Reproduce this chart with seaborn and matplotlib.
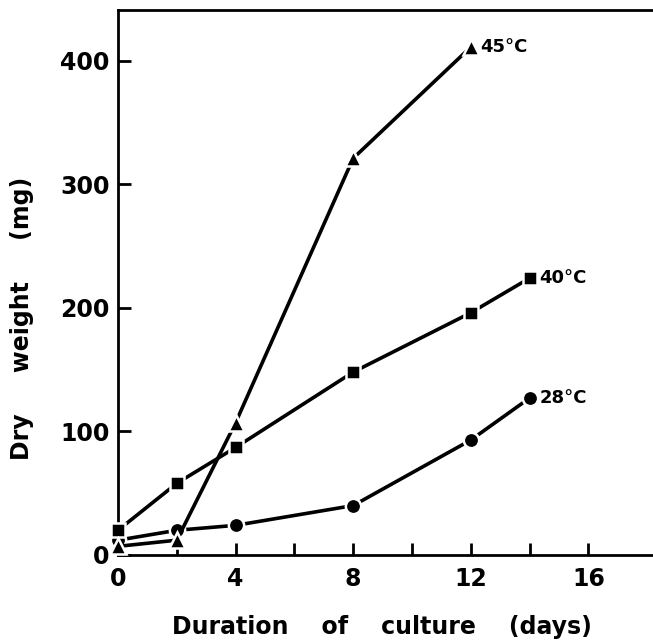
import matplotlib
matplotlib.use("Agg")
import matplotlib.pyplot as plt
import seaborn as sns
import pandas as pd

days_28 = [0, 2, 4, 8, 12, 14]
weight_28 = [12, 20, 24, 40, 93, 127]
days_40 = [0, 2, 4, 8, 12, 14]
weight_40 = [20, 58, 87, 148, 196, 224]
days_45 = [0, 2, 4, 8, 12]
weight_45 = [7, 12, 107, 321, 411]
series_labels = ["28°C", "40°C", "45°C"]
x_ticks = [0, 4, 8, 12, 16]
x_minor = [2, 6, 10, 14]
y_ticks = [0, 100, 200, 300, 400]

frames = []
for lab, d, w in zip(series_labels, [days_28, days_40, days_45], [weight_28, weight_40, weight_45]):
    frames.append(pd.DataFrame({"day": d, "weight": w, "temp": lab}))
df = pd.concat(frames, ignore_index=True)

sns.set_style("ticks")
plt.rcParams["font.family"] = ["DejaVu Sans"]
plt.rcParams["font.weight"] = "bold"
plt.rcParams["text.color"] = "black"
plt.rcParams["axes.labelcolor"] = "black"
plt.rcParams["xtick.color"] = "black"
plt.rcParams["ytick.color"] = "black"

W, H = 653, 644
fig = plt.figure(figsize=(W / 100, H / 100), dpi=100)
ax = fig.add_axes([118 / W, (H - 555) / H, 1 - 118 / W, (555 - 10) / H])

markers = {"28°C": "o", "40°C": "s", "45°C": "^"}
sizes_ms = {"28°C": 11, "40°C": 10.5, "45°C": 12}
for lab in series_labels:
    sub = df[df["temp"] == lab]
    sns.lineplot(data=sub, x="day", y="weight", ax=ax, color="black",
                 marker=markers[lab], markersize=sizes_ms[lab],
                 markeredgecolor="white", markeredgewidth=1.8,
                 linewidth=2.6, legend=False, zorder=3)
    last = sub.iloc[-1]
    ax.annotate(lab, (last["day"], last["weight"]), xytext=(7, 0),
                textcoords="offset points", ha="left", va="center",
                fontsize=13, fontweight="bold", color="black")
for ln in ax.lines:
    ln.set_clip_on(False)

ax.set_xlim(0, 18.2)
ax.set_ylim(0, 441)
ax.set_xticks(x_ticks)
ax.set_xticks(x_minor, minor=True)
ax.set_yticks(y_ticks)
ax.tick_params(axis="both", which="both", direction="in", width=2, colors="black")
ax.tick_params(axis="both", which="major", length=9, labelsize=17)
ax.tick_params(axis="x", which="minor", length=9)
ax.tick_params(axis="x", which="major", pad=9)
ax.tick_params(axis="y", which="major", pad=6)
for t in ax.get_xticklabels() + ax.get_yticklabels():
    t.set_fontweight("bold")

for s in ["left", "top", "bottom"]:
    ax.spines[s].set_linewidth(2)
    ax.spines[s].set_color("black")
ax.spines["right"].set_visible(False)

ax.set_xlabel("")
ax.set_ylabel("")
fig.text(382 / W, 1 - 627 / H, "Duration    of    culture    (days)", ha="center", va="center",
         fontsize=17, fontweight="bold", color="black")
fig.text(22 / W, 1 - 318 / H, "Dry     weight     (mg)", ha="center", va="center",
         rotation=90, fontsize=17, fontweight="bold", color="black")

fig.savefig("out.png", dpi=100, facecolor="white")
